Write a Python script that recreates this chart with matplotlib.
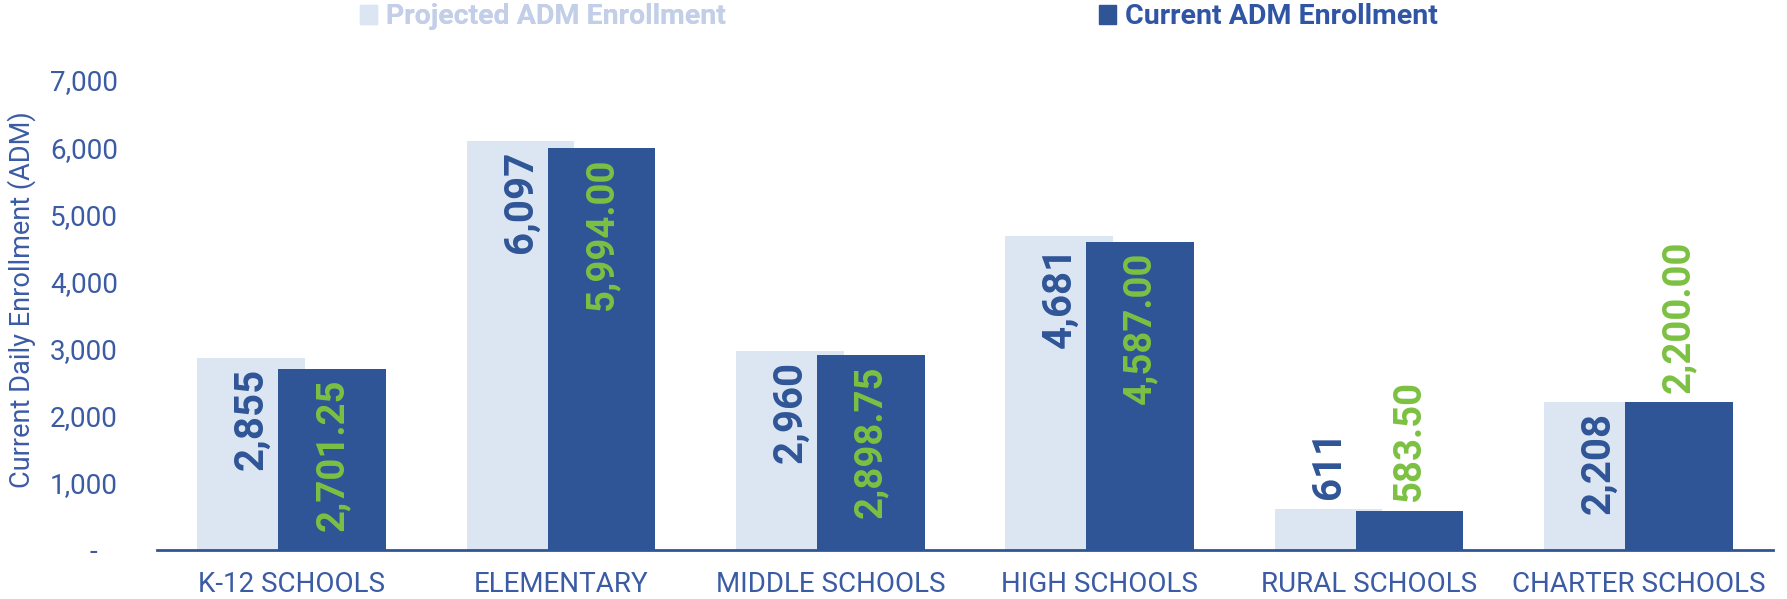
import matplotlib
matplotlib.use("Agg")
import matplotlib.pyplot as plt
import numpy as np
from matplotlib.ticker import FuncFormatter
from matplotlib.patches import Patch

categories = ["K-12 SCHOOLS", "ELEMENTARY", "MIDDLE SCHOOLS", "HIGH SCHOOLS", "RURAL SCHOOLS", "CHARTER SCHOOLS"]
projected = [2855, 6097, 2960, 4681, 611, 2208]
current = [2701.25, 5994.00, 2898.75, 4587.00, 583.50, 2200.00]

LIGHT = "#DCE6F3"
DARK = "#2F5597"
GREEN = "#7CC142"
TXT = "#3B5BA5"
FONT = "Roboto"

plt.rcParams["font.family"] = [FONT, "DejaVu Sans"]

fig = plt.figure(figsize=(17.87, 5.99), dpi=100)
W, H = 1787, 599
ax = fig.add_axes([157 / W, 1 - 550 / H, (1773 - 157) / W, (550 - 80) / H])

x = np.arange(len(categories))
bw = 0.4
b1 = ax.bar(x - 0.15, projected, bw, color=LIGHT, zorder=2)
b2 = ax.bar(x + 0.15, current, bw, color=DARK, zorder=3)

ax.set_xlim(-0.5, len(categories) - 0.5)
ax.set_ylim(0, 7000)
ax.set_yticks(np.arange(0, 7001, 1000))
ax.yaxis.set_major_formatter(FuncFormatter(lambda v, p: "-   " if v == 0 else f"{v:,.0f}"))
ax.set_xticks(x)
ax.set_xticklabels(categories)
ax.tick_params(axis="both", length=0, colors=TXT)
ax.tick_params(axis="y", labelsize=20, pad=28)
ax.tick_params(axis="x", labelsize=20, pad=15)
for s in ["top", "right", "left"]:
    ax.spines[s].set_visible(False)
ax.spines["bottom"].set_color(DARK)
ax.spines["bottom"].set_linewidth(2)
ax.spines["bottom"].set_zorder(4)

fig.text(0.012, 1 - 300 / H, "Current Daily Enrollment (ADM)", rotation=90,
         ha="center", va="center", fontsize=19.5, color=TXT)

# value labels: inside end when they fit, otherwise above the bar
fig.canvas.draw()
r = fig.canvas.get_renderer()
y0 = ax.transData.transform((0, 0))[1]
pad = 7
for bars, vals, col, fmt, fs in [(b1, projected, DARK, "{:,.0f}", 29), (b2, current, GREEN, "{:,.2f}", 27.5)]:
    for rect, v in zip(bars, vals):
        cx = rect.get_x() + rect.get_width() / 2
        t = ax.annotate(fmt.format(v), (cx, v), xytext=(0, -pad), textcoords="offset points",
                        rotation=90, ha="center", va="top", fontsize=fs, fontweight="bold",
                        color=col, zorder=5)
        bb = t.get_window_extent(r)
        if bb.y0 < y0 + 4:
            t.set_position((0, pad))
            t.set_va("bottom")

# legend, two entries spread across the top
leg1 = fig.legend(handles=[Patch(color=LIGHT)], labels=["Projected ADM Enrollment"],
                  loc="center left", bbox_to_anchor=(360 / W, 1 - 17 / H), frameon=False,
                  borderpad=0, borderaxespad=0, handlelength=0.6, handleheight=0.6,
                  handletextpad=0.3, prop={"family": FONT, "weight": "bold", "size": 20.5})
leg1.get_texts()[0].set_color("#C3CFE9")
leg2 = fig.legend(handles=[Patch(color=DARK)], labels=["Current ADM Enrollment"],
                  loc="center left", bbox_to_anchor=(1099 / W, 1 - 17 / H), frameon=False,
                  borderpad=0, borderaxespad=0, handlelength=0.6, handleheight=0.6,
                  handletextpad=0.3, prop={"family": FONT, "weight": "bold", "size": 20.5})
leg2.get_texts()[0].set_color("#2F55A4")
fig.add_artist(leg1)

fig.savefig("out.png", dpi=100)
